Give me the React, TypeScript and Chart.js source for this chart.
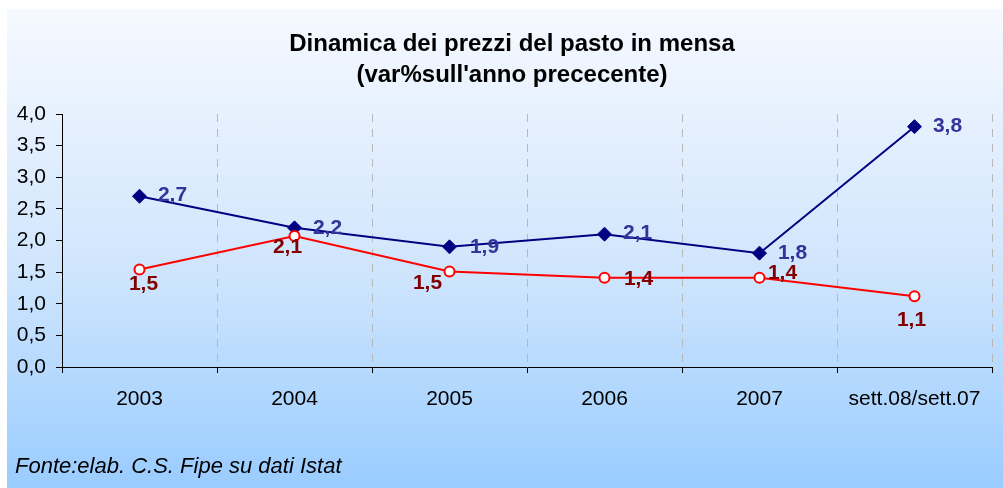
import React, { useEffect, useRef } from 'react';
import { Chart, registerables } from 'chart.js';

Chart.register(...registerables);

// ---- data ----
const categories = ['2003', '2004', '2005', '2006', '2007', 'sett.08/sett.07'];
const seriesBlue = [2.7, 2.2, 1.9, 2.1, 1.8, 3.8];
const seriesRed = [1.54, 2.07, 1.51, 1.41, 1.41, 1.12];
const yMin = 0;
const yMax = 4;
const yStep = 0.5;
const titleLines = ['Dinamica dei prezzi del pasto in mensa', "(var%sull'anno prececente)"];
const sourceNote = 'Fonte:elab. C.S. Fipe su dati Istat';

const FONT = '"Liberation Sans", Arial, Helvetica, sans-serif';
const fmt = (v: number) => v.toFixed(1).replace('.', ',');

// label placement (styling) per dataset, relative to the point
const blueLabelOffsets = [[33, -1], [33, 0], [35, 0], [33, -1], [33, 0], [33, 0]];
const redLabelOffsets = [[4, 15], [-7, 11], [-22, 12], [34, 1], [23, -5], [-3, 24]];

const decorPlugin = {
  id: 'decor',
  afterDatasetsDraw(chart: any) {
    const ctx = chart.ctx as CanvasRenderingContext2D;
    ctx.save();
    ctx.textAlign = 'center';
    ctx.textBaseline = 'middle';
    ctx.font = `bold 21px ${FONT}`;
    chart.data.datasets.forEach((ds: any, di: number) => {
      const meta = chart.getDatasetMeta(di);
      meta.data.forEach((pt: any, i: number) => {
        const [dx, dy] = ds.labelOffsets[i];
        ctx.fillStyle = ds.labelColor;
        ctx.fillText(fmt(ds.data[i]), pt.x + dx, pt.y + dy);
      });
    });
    ctx.restore();
  },
  afterDraw(chart: any) {
    const ctx = chart.ctx as CanvasRenderingContext2D;
    ctx.save();
    ctx.fillStyle = '#000';
    ctx.textAlign = 'center';
    ctx.textBaseline = 'middle';
    ctx.font = `bold 24px ${FONT}`;
    ctx.fillText(titleLines[0], 505, 35);
    ctx.fillText(titleLines[1], 505, 66);
    ctx.textAlign = 'left';
    ctx.font = `italic 22px ${FONT}`;
    ctx.fillText(sourceNote, 8, 458);
    ctx.restore();
  },
};

export default function App() {
  const ref = useRef<HTMLCanvasElement | null>(null);

  useEffect(() => {
    if (!ref.current) return;
    const chart = new Chart(ref.current, {
      type: 'line',
      data: {
        labels: categories,
        datasets: [
          {
            data: seriesBlue,
            borderColor: '#000080',
            backgroundColor: '#000080',
            borderWidth: 2,
            pointStyle: 'rectRot',
            pointRadius: 7,
            pointBorderWidth: 1,
            pointBackgroundColor: '#000080',
            pointBorderColor: '#000080',
            tension: 0,
            order: 1,
            labelOffsets: blueLabelOffsets,
            labelColor: '#333399',
          } as any,
          {
            data: seriesRed,
            borderColor: '#FF0000',
            backgroundColor: '#FFFFFF',
            borderWidth: 2,
            pointStyle: 'circle',
            pointRadius: 5,
            pointBorderWidth: 2,
            pointBackgroundColor: '#FFFFFF',
            pointBorderColor: '#FF0000',
            tension: 0,
            order: 0,
            labelOffsets: redLabelOffsets,
            labelColor: '#800000',
          } as any,
        ],
      },
      options: {
        animation: false,
        responsive: true,
        maintainAspectRatio: false,
        layout: { padding: { top: 105, right: 11, bottom: 81, left: 0 } },
        plugins: {
          legend: { display: false },
          title: { display: false },
          tooltip: { enabled: false },
        },
        scales: {
          x: {
            type: 'category',
            offset: true,
            grid: {
              offset: true,
              display: true,
              drawOnChartArea: true,
              drawTicks: true,
              tickLength: 6,
              color: '#B8B8B8',
              lineWidth: 1,
              tickColor: '#000',
              tickBorderDash: [],
            },
            border: { display: true, color: '#000', width: 1, dash: [8, 7] },
            ticks: {
              color: '#000',
              font: { family: FONT, size: 21 },
              padding: 14,
              maxRotation: 0,
              autoSkip: false,
            },
            afterFit: (s: any) => { s.height = 40; },
          },
          y: {
            min: yMin,
            max: yMax,
            grid: {
              display: true,
              drawOnChartArea: false,
              drawTicks: true,
              tickLength: 6,
              tickColor: '#000',
            },
            border: { display: true, color: '#000', width: 1 },
            ticks: {
              stepSize: yStep,
              color: '#000',
              font: { family: FONT, size: 21 },
              padding: 10,
              callback: (v: any) => fmt(Number(v)),
            },
            afterFit: (s: any) => { s.width = 55; },
          },
        },
      } as any,
      plugins: [decorPlugin],
    });
    return () => chart.destroy();
  }, []);

  return (
    <div
      style={{
        position: 'fixed',
        left: 7,
        top: 9,
        width: 996,
        height: 479,
        background: 'linear-gradient(to bottom, #F6F9FF 0%, #CFE5FD 55%, #99CCFF 100%)',
      }}
    >
      <canvas ref={ref} />
    </div>
  );
}
